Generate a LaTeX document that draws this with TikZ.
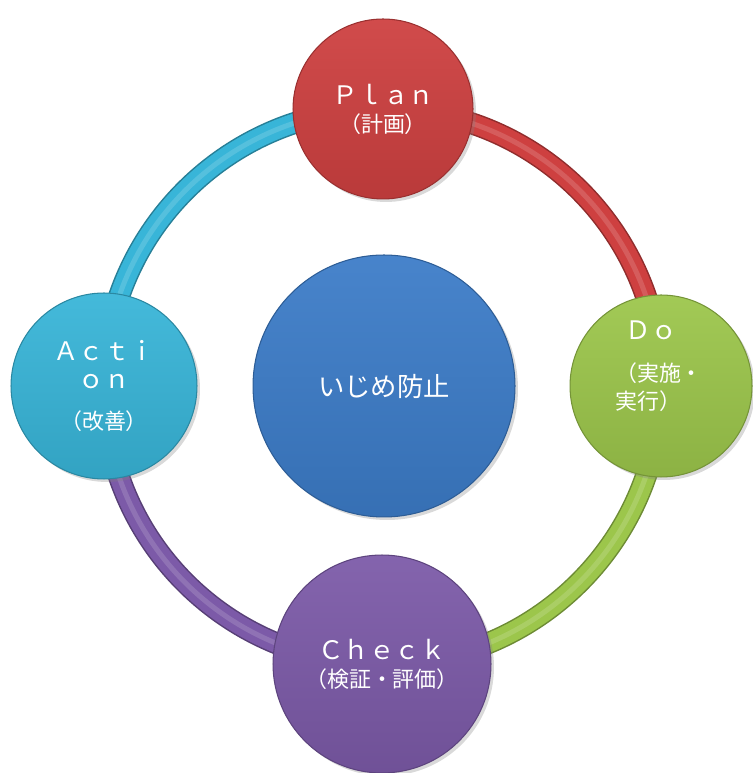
\documentclass[tikz,border=0pt]{standalone}
\usepackage{fontspec}
\setmainfont{Noto Sans CJK JP}
\usepackage{tikz}
\usetikzlibrary{shadows,backgrounds}

\definecolor{planred}{HTML}{CE4040}
\definecolor{dogreen}{HTML}{9CC64B}
\definecolor{checkviolet}{HTML}{7C5AA8}
\definecolor{actcyan}{HTML}{38B5D8}
\definecolor{hubblue}{HTML}{3C7CC8}

\newcommand\latinsz{\fontsize{14.5pt}{16pt}\selectfont}
\newcommand\kanjisz{\fontsize{12.5pt}{16pt}\selectfont}

\begin{document}
\begin{tikzpicture}[x=0.02cm, y=0.02cm,
  phase/.style={circle, text=white, align=center, font=\kanjisz, inner sep=0pt,
    draw=#1!75!black, line width=0.6pt,
    top color=#1!94!white, bottom color=#1!90!black,
    drop shadow={opacity=0.3, shadow xshift=0.06cm, shadow yshift=-0.06cm}},
  phasetext/.style={text=white, font=\kanjisz, inner sep=0pt},
  ringdark/.style={line width=0.44cm, draw=#1!70!black},
  ringmain/.style={line width=0.38cm, draw=#1},
  ringshine/.style={line width=0.1cm, draw=white, opacity=0.15}]
  \useasboundingbox (0,0) rectangle (752,773);

  % the four steps and the hub
  \node[phase=planred, minimum size=3.6cm] (plan) at (383,664)
    {{\latinsz Ｐｌａｎ}\\（計画）};
  \node[phase=dogreen, minimum size=3.64cm,
    label={[phasetext, align=left, yshift=0.4cm, xshift=-0.04cm]center:{\hspace*{6pt}{\latinsz Ｄｏ}\\[8pt]（実施・\\実行）}}]
    (do) at (661,387) {};
  \node[phase=checkviolet, minimum size=4.36cm] (check) at (382,109)
    {{\latinsz Ｃｈｅｃｋ}\\（検証・評価）};
  \node[phase=actcyan, minimum size=3.72cm] (act) at (104,387)
    {{\latinsz Ａｃｔｉ}\\{\latinsz ｏｎ}\\[7pt]（改善）};
  \node[phase=hubblue, minimum size=5.24cm, font=\fontsize{15pt}{16pt}\selectfont] (hub) at (384,387)
    {いじめ防止};

  % ring between the steps
  \begin{scope}[on background layer]
    \draw[ringdark=planred] (plan.center) to[bend left=45] (do.center);
    \draw[ringmain=planred] (plan.center) to[bend left=45] (do.center);
    \draw[ringshine] (plan.center) to[bend left=45] (do.center);
    \draw[ringdark=dogreen] (do.center) to[bend left=45] (check.center);
    \draw[ringmain=dogreen] (do.center) to[bend left=45] (check.center);
    \draw[ringshine] (do.center) to[bend left=45] (check.center);
    \draw[ringdark=checkviolet] (check.center) to[bend left=45] (act.center);
    \draw[ringmain=checkviolet] (check.center) to[bend left=45] (act.center);
    \draw[ringshine] (check.center) to[bend left=45] (act.center);
    \draw[ringdark=actcyan] (act.center) to[bend left=45] (plan.center);
    \draw[ringmain=actcyan] (act.center) to[bend left=45] (plan.center);
    \draw[ringshine] (act.center) to[bend left=45] (plan.center);
  \end{scope}
\end{tikzpicture}
\end{document}
